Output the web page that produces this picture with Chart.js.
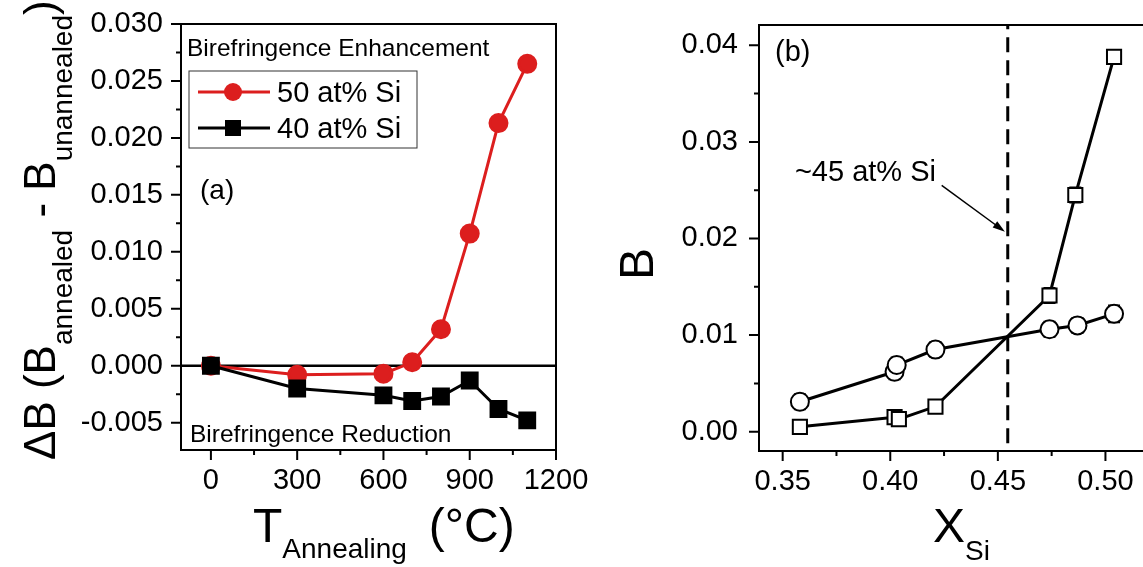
<!DOCTYPE html>
<html>
<head>
<meta charset="utf-8">
<script src="https://cdn.jsdelivr.net/npm/chart.js@4.4.1/dist/chart.umd.min.js"></script>
<style>
    html, body { margin: 0; padding: 0; background: #fff; overflow: hidden; width: 1143px; height: 567px; }
    #chartA { position: absolute; left: 0; top: 0; }
    #chartB { position: absolute; left: 590px; top: 0; }
</style>
</head>
<body>
<canvas id="chartA" width="590" height="567"></canvas>
<canvas id="chartB" width="610" height="567"></canvas>
<script>
// panel (a): birefringence change vs annealing temperature
var annealTemps = [0, 300, 600, 700, 800, 900, 1000, 1100];
var dB50 = [0.0000, -0.0008, -0.0007, 0.0003, 0.0032, 0.0116, 0.0213, 0.0265];
var dB40 = [0.0000, -0.0020, -0.0026, -0.0031, -0.0027, -0.0013, -0.0038, -0.0048];
var tempTicks = [0, 300, 600, 900, 1200];
var dBTicks = [-0.005, 0.000, 0.005, 0.010, 0.015, 0.020, 0.025, 0.030];

// panel (b): birefringence vs Si fraction
var xSiCircles = [0.358, 0.402, 0.403, 0.421, 0.474, 0.487, 0.504];
var bCircles = [0.0031, 0.0062, 0.0069, 0.0085, 0.0106, 0.0110, 0.0122];
var errCircles = [0.0008, 0.0008, 0.0008, 0.0008, 0.0008, 0.0008, 0.0009];
var xSiSquares = [0.358, 0.402, 0.404, 0.421, 0.474, 0.486, 0.504];
var bSquares = [0.0005, 0.0015, 0.0013, 0.0026, 0.0141, 0.0245, 0.0388];
var errSquares = [0.0007, 0.0007, 0.0007, 0.0007, 0.0008, 0.0008, 0.0007];
var xSiTicks = [0.35, 0.40, 0.45, 0.50];
var bTicks = [0.00, 0.01, 0.02, 0.03, 0.04];
var crossoverX = 0.4546;

var RED = '#dc1e1e';
var FONT = "'Liberation Sans', Arial, sans-serif";

function pts(xs, ys) {
    return xs.map(function (x, i) { return {x: x, y: ys[i]}; });
}

function minorsOf(majors, min, max) {
    var step = majors[1] - majors[0];
    var out = [majors[0] - step / 2];
    majors.forEach(function (v) { out.push(v + step / 2); });
    return out.filter(function (v) { return v > min && v < max; });
}

// keep the plot box where the layout padding puts it
function noPad(s) {
    s.paddingTop = 0;
    s.paddingBottom = 0;
    s.paddingLeft = 0;
    s.paddingRight = 0;
}

// frame + outward major/minor ticks
function drawFrame(chart, xMajors, yMajors) {
    var ctx = chart.ctx, a = chart.chartArea;
    var xs = chart.scales.x, ys = chart.scales.y;
    ctx.save();
    ctx.strokeStyle = '#000';
    ctx.lineWidth = 2;
    ctx.strokeRect(a.left, a.top, a.right - a.left, a.bottom - a.top);
    ctx.beginPath();
    xMajors.forEach(function (v) { var p = xs.getPixelForValue(v); ctx.moveTo(p, a.bottom); ctx.lineTo(p, a.bottom + 10); });
    minorsOf(xMajors, xs.min, xs.max).forEach(function (v) { var p = xs.getPixelForValue(v); ctx.moveTo(p, a.bottom); ctx.lineTo(p, a.bottom + 5); });
    yMajors.forEach(function (v) { var p = ys.getPixelForValue(v); ctx.moveTo(a.left, p); ctx.lineTo(a.left - 10, p); });
    minorsOf(yMajors, ys.min, ys.max).forEach(function (v) { var p = ys.getPixelForValue(v); ctx.moveTo(a.left, p); ctx.lineTo(a.left - 5, p); });
    ctx.stroke();
    ctx.restore();
}

// text with subscripts, pieces = [[text, size, dy, gapBefore]]
function drawRich(ctx, x, y, pieces) {
    var cx = x;
    pieces.forEach(function (p) {
        cx += p[3] || 0;
        ctx.font = p[1] + 'px ' + FONT;
        ctx.fillText(p[0], cx, y + p[2]);
        cx += ctx.measureText(p[0]).width;
    });
}

var tickFont = {family: FONT, size: 29};

var panelA = {
    id: 'panelA',
    beforeDatasetsDraw: function (chart) {
        var ctx = chart.ctx, a = chart.chartArea, y0 = chart.scales.y.getPixelForValue(0);
        ctx.save();
        ctx.strokeStyle = '#000';
        ctx.lineWidth = 2.5;
        ctx.beginPath();
        ctx.moveTo(a.left, y0);
        ctx.lineTo(a.right, y0);
        ctx.stroke();
        ctx.restore();
    },
    afterDraw: function (chart) {
        var ctx = chart.ctx, a = chart.chartArea;
        drawFrame(chart, tempTicks, dBTicks);
        ctx.save();
        ctx.fillStyle = '#000';
        ctx.textBaseline = 'alphabetic';
        ctx.font = '24.5px ' + FONT;
        ctx.fillText('Birefringence Enhancement', a.left + 6, a.top + 32);
        ctx.fillText('Birefringence Reduction', a.left + 9, a.bottom - 8);
        ctx.font = '28px ' + FONT;
        ctx.fillText('(a)', a.left + 19, a.top + 175);

        // legend
        var bx = a.left + 8, by = a.top + 47;
        ctx.strokeStyle = '#333';
        ctx.lineWidth = 1;
        ctx.strokeRect(bx, by, 228, 77);
        var rows = [
            {color: RED, y: by + 21, text: '50 at% Si', style: 'circle'},
            {color: '#000', y: by + 57, text: '40 at% Si', style: 'rect'}
        ];
        rows.forEach(function (r) {
            ctx.strokeStyle = r.color;
            ctx.fillStyle = r.color;
            ctx.lineWidth = 3;
            ctx.beginPath();
            ctx.moveTo(bx + 9, r.y);
            ctx.lineTo(bx + 81, r.y);
            ctx.stroke();
            ctx.beginPath();
            if (r.style === 'circle') ctx.arc(bx + 44, r.y, 9, 0, Math.PI * 2);
            else ctx.rect(bx + 44 - 8, r.y - 8, 16, 16);
            ctx.fill();
            ctx.fillStyle = '#000';
            ctx.font = '29px ' + FONT;
            ctx.fillText(r.text, bx + 88, r.y + 10);
        });

        // axis titles
        drawRich(ctx, 253, 542, [['T', 48, 0], ['Annealing', 28, 16], ['(\u00B0C)', 48, 0, 22]]);
        ctx.translate(55, 460);
        ctx.rotate(-Math.PI / 2);
        drawRich(ctx, 0, 0, [['\u0394B (B', 44, 0], ['annealed', 28, 17], [' - B', 44, 0], ['unannealed', 28, 17], [')', 44, 0]]);
        ctx.restore();
    }
};

new Chart(document.getElementById('chartA'), {
    type: 'line',
    data: {
        datasets: [{
            label: '40 at% Si',
            data: pts(annealTemps, dB40),
            borderColor: '#000',
            backgroundColor: '#000',
            borderWidth: 3,
            pointStyle: 'rect',
            pointRadius: 10.5,
            order: 0
        }, {
            label: '50 at% Si',
            data: pts(annealTemps, dB50),
            borderColor: RED,
            backgroundColor: RED,
            borderWidth: 3,
            pointStyle: 'circle',
            pointRadius: 8.5,
            order: 1
        }]
    },
    options: {
        responsive: false,
        animation: false,
        layout: {padding: {left: 0, top: 24, right: 34, bottom: 0}},
        plugins: {legend: {display: false}, tooltip: {enabled: false}},
        scales: {
            x: {
                type: 'linear',
                min: -104,
                max: 1200,
                border: {display: false},
                grid: {display: false, drawTicks: false},
                ticks: {font: tickFont, color: '#000', padding: 14, maxRotation: 0, callback: function (v) { return String(v); }},
                afterBuildTicks: function (s) { s.ticks = tempTicks.map(function (v) { return {value: v}; }); },
                afterFit: function (s) { s.height = 117; noPad(s); }
            },
            y: {
                min: -0.0074,
                max: 0.030,
                border: {display: false},
                grid: {display: false, drawTicks: false},
                ticks: {font: tickFont, color: '#000', padding: 18, callback: function (v) { return v.toFixed(3); }},
                afterBuildTicks: function (s) { s.ticks = dBTicks.map(function (v) { return {value: v}; }); },
                afterFit: function (s) { s.width = 181; noPad(s); }
            }
        }
    },
    plugins: [panelA]
});

var panelB = {
    id: 'panelB',
    beforeDatasetsDraw: function (chart) {
        var ctx = chart.ctx, xs = chart.scales.x, ys = chart.scales.y;
        ctx.save();
        ctx.strokeStyle = '#000';
        ctx.lineWidth = 1.5;
        [[xSiCircles, bCircles, errCircles], [xSiSquares, bSquares, errSquares]].forEach(function (s) {
            s[0].forEach(function (x, i) {
                var px = xs.getPixelForValue(x);
                var top = ys.getPixelForValue(s[1][i] + s[2][i]);
                var bot = ys.getPixelForValue(s[1][i] - s[2][i]);
                ctx.beginPath();
                ctx.moveTo(px, top); ctx.lineTo(px, bot);
                ctx.moveTo(px - 6, top); ctx.lineTo(px + 6, top);
                ctx.moveTo(px - 6, bot); ctx.lineTo(px + 6, bot);
                ctx.stroke();
            });
        });
        ctx.restore();
    },
    afterDraw: function (chart) {
        var ctx = chart.ctx, a = chart.chartArea, xs = chart.scales.x, ys = chart.scales.y;
        drawFrame(chart, xSiTicks, bTicks);
        ctx.save();
        ctx.fillStyle = '#000';
        ctx.font = '29px ' + FONT;
        ctx.fillText('(b)', a.left + 16, a.top + 36);
        ctx.fillText('~45 at% Si', xs.getPixelForValue(0.3557), ys.getPixelForValue(0.0259));

        // arrow to the crossover line
        var x1 = xs.getPixelForValue(0.4239), y1 = ys.getPixelForValue(0.0255);
        var x2 = xs.getPixelForValue(0.4533), y2 = ys.getPixelForValue(0.0207);
        var ang = Math.atan2(y2 - y1, x2 - x1);
        ctx.strokeStyle = '#000';
        ctx.lineWidth = 1.5;
        ctx.beginPath();
        ctx.moveTo(x1, y1);
        ctx.lineTo(x2 - 8 * Math.cos(ang), y2 - 8 * Math.sin(ang));
        ctx.stroke();
        ctx.beginPath();
        ctx.moveTo(x2, y2);
        ctx.lineTo(x2 - 13 * Math.cos(ang - 0.3), y2 - 13 * Math.sin(ang - 0.3));
        ctx.lineTo(x2 - 13 * Math.cos(ang + 0.3), y2 - 13 * Math.sin(ang + 0.3));
        ctx.closePath();
        ctx.fill();

        // axis titles
        drawRich(ctx, 343, 542, [['X', 48, 0], ['Si', 28, 18]]);
        ctx.translate(63, 264);
        ctx.rotate(-Math.PI / 2);
        ctx.textAlign = 'center';
        ctx.font = '48px ' + FONT;
        ctx.fillText('B', 0, 0);
        ctx.restore();
    }
};

new Chart(document.getElementById('chartB'), {
    type: 'line',
    data: {
        datasets: [{
            label: 'circles',
            data: pts(xSiCircles, bCircles),
            borderColor: '#000',
            backgroundColor: '#fff',
            borderWidth: 3,
            pointStyle: 'circle',
            pointRadius: 9,
            pointBorderWidth: 2,
            order: 1
        }, {
            label: 'squares',
            data: pts(xSiSquares, bSquares),
            borderColor: '#000',
            backgroundColor: '#fff',
            borderWidth: 3,
            pointStyle: 'rect',
            pointRadius: 10,
            pointBorderWidth: 2,
            order: 0
        }, {
            label: '~45 at% Si',
            data: [{x: crossoverX, y: -0.0012}, {x: crossoverX, y: 0.042}],
            borderColor: '#000',
            borderWidth: 3,
            borderDash: [15, 8],
            pointRadius: 0,
            order: 2
        }]
    },
    options: {
        responsive: false,
        animation: false,
        layout: {padding: {left: 0, top: 25, right: 30, bottom: 0}},
        plugins: {legend: {display: false}, tooltip: {enabled: false}},
        scales: {
            x: {
                type: 'linear',
                min: 0.339,
                max: 0.53,
                border: {display: false},
                grid: {display: false, drawTicks: false},
                ticks: {font: tickFont, color: '#000', padding: 14, maxRotation: 0, callback: function (v) { return v.toFixed(2); }},
                afterBuildTicks: function (s) { s.ticks = xSiTicks.map(function (v) { return {value: v}; }); },
                afterFit: function (s) { s.height = 116; noPad(s); }
            },
            y: {
                min: -0.002,
                max: 0.0421,
                border: {display: false},
                grid: {display: false, drawTicks: false},
                ticks: {font: tickFont, color: '#000', padding: 21, callback: function (v) { return v.toFixed(2); }},
                afterBuildTicks: function (s) { s.ticks = bTicks.map(function (v) { return {value: v}; }); },
                afterFit: function (s) { s.width = 169; noPad(s); }
            }
        }
    },
    plugins: [panelB]
});
</script>
</body>
</html>
